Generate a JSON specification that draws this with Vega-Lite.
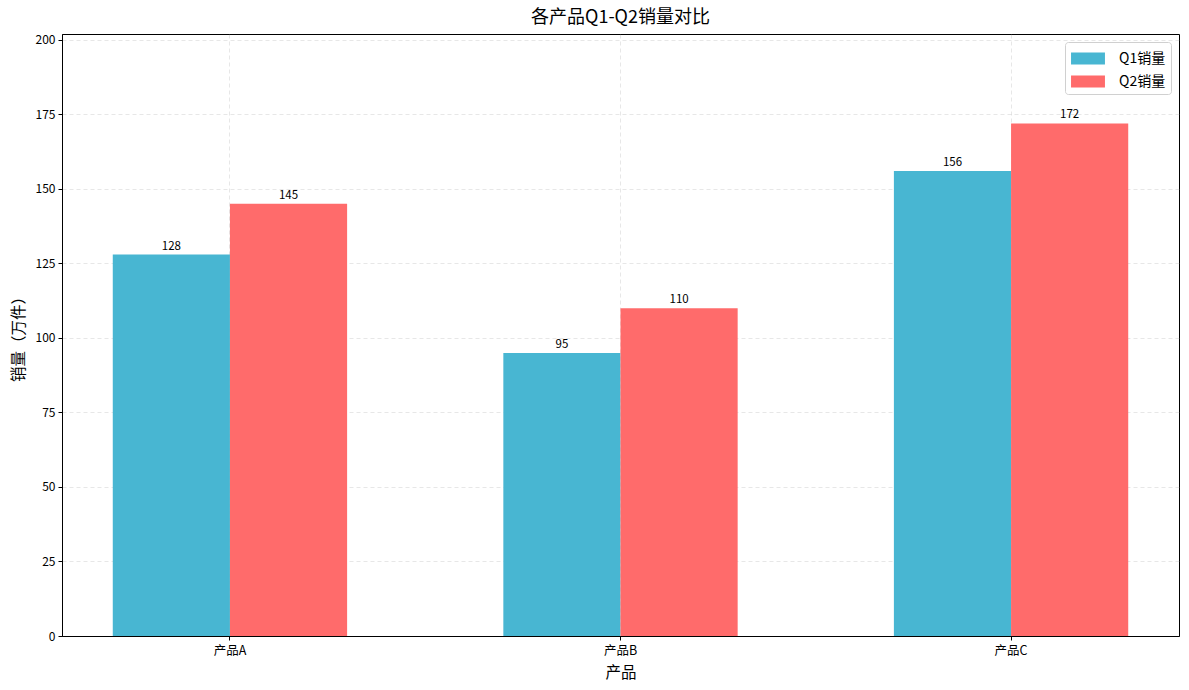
{
  "$schema": "https://vega.github.io/schema/vega-lite/v6.json",
  "width": 1117,
  "height": 602,
  "autosize": {"type": "none"},
  "padding": {"left": 62, "top": 34, "right": 10, "bottom": 54},
  "background": "white",
  "config": {
    "font": "Noto Sans CJK SC",
    "view": {"stroke": "black", "strokeWidth": 1},
    "axis": {"labelFont": "Noto Sans CJK SC", "titleFont": "Noto Sans CJK SC"}
  },
  "title": {"text": "各产品Q1-Q2销量对比", "fontSize": 18, "fontWeight": "normal", "color": "black", "offset": 7, "anchor": "middle"},
  "data": {
    "values": [
      {"product": "产品A", "quarter": "Q1销量", "sales": 128},
      {"product": "产品A", "quarter": "Q2销量", "sales": 145},
      {"product": "产品B", "quarter": "Q1销量", "sales": 95},
      {"product": "产品B", "quarter": "Q2销量", "sales": 110},
      {"product": "产品C", "quarter": "Q1销量", "sales": 156},
      {"product": "产品C", "quarter": "Q2销量", "sales": 172}
    ]
  },
  "encoding": {
    "x": {
      "field": "product", "type": "nominal",
      "scale": {"paddingInner": 0.4, "paddingOuter": 0.13},
      "axis": {
        "title": "产品", "titleFontSize": 15.5, "titleFontWeight": "normal", "titleColor": "black", "titlePadding": 9,
        "labelAngle": 0, "labelFontSize": 12.5, "labelColor": "black", "labelPadding": 4,
        "tickColor": "black", "tickSize": 4, "domainColor": "black",
        "grid": true, "gridColor": "#b0b0b0", "gridOpacity": 0.3, "gridDash": [4, 3], "bandPosition": 0.5
      }
    },
    "xOffset": {"field": "quarter", "type": "nominal", "scale": {"paddingInner": 0, "paddingOuter": 0}},
    "y": {
      "field": "sales", "type": "quantitative",
      "scale": {"domain": [0, 202], "nice": false},
      "axis": {
        "title": "销量（万件）", "titleFontSize": 15.5, "titleFontWeight": "normal", "titleColor": "black", "titlePadding": 9,
        "values": [0, 25, 50, 75, 100, 125, 150, 175, 200],
        "labelFontSize": 12, "labelColor": "black", "labelPadding": 3,
        "tickColor": "black", "tickSize": 4, "domainColor": "black",
        "grid": true, "gridColor": "#b0b0b0", "gridOpacity": 0.3, "gridDash": [4, 3]
      }
    }
  },
  "layer": [
    {
      "mark": {"type": "bar"},
      "encoding": {
        "color": {
          "field": "quarter", "type": "nominal",
          "scale": {"domain": ["Q1销量", "Q2销量"], "range": ["#48B6D2", "#FF6B6B"]},
          "legend": {
            "title": null, "orient": "top-right", "offset": 8,
            "labelFontSize": 14, "labelColor": "black", "labelFont": "Noto Sans CJK SC",
            "symbolType": "M-0.91,-0.52H2.04V0.52H-0.91Z", "symbolSize": 529, "symbolStrokeWidth": 0, "symbolOpacity": 1,
            "rowPadding": 4, "labelOffset": 26,
            "fillColor": "white", "strokeColor": "#d0d0d0", "cornerRadius": 3, "padding": 5
          }
        }
      }
    },
    {
      "mark": {"type": "text", "baseline": "bottom", "dy": -3, "fontSize": 11.5, "color": "black"},
      "encoding": {"text": {"field": "sales", "type": "quantitative"}}
    }
  ]
}
